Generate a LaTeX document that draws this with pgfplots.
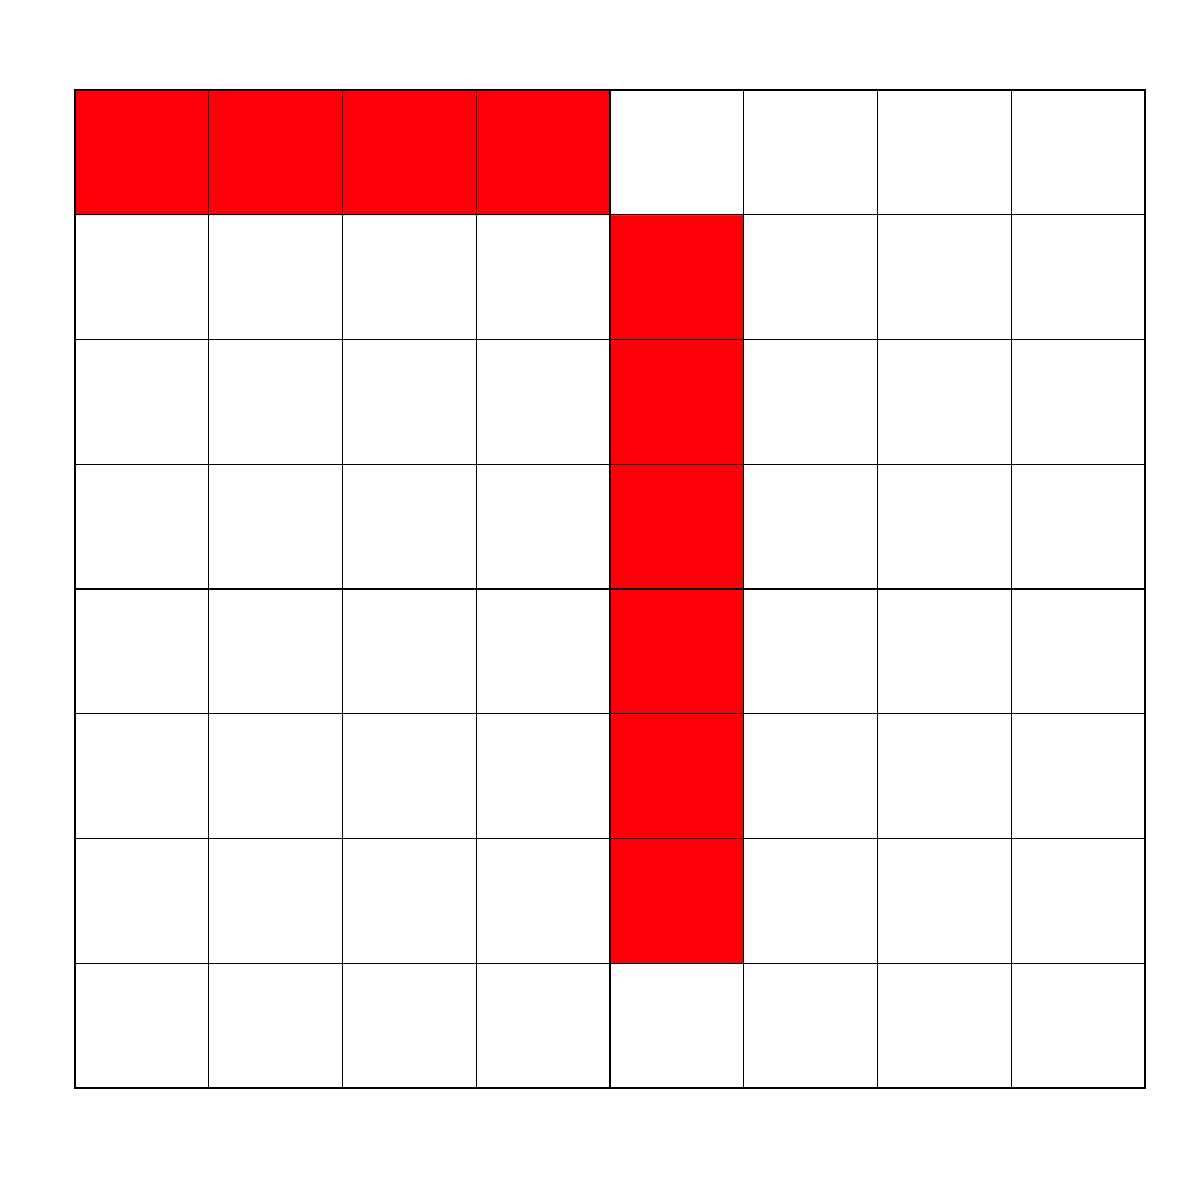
\documentclass[border=0pt]{standalone}
\usepackage{pgfplots}
\pgfplotsset{compat=1.18}
\definecolor{cellred}{HTML}{FF0008}
\begin{document}
\begin{tikzpicture}
\path (-37.5pt,-56pt) rectangle (562.5pt,544pt);
\begin{axis}[at={(0,0)},anchor=south west,scale only axis,width=535pt,height=499pt,
 xmin=0,xmax=8,ymin=0,ymax=8,xtick={0,...,8},ytick={0,...,8},
 xticklabels={},yticklabels={},major tick length=0pt,grid=major,
 grid style={black,line width=0.6pt},axis line style={black,line width=0.6pt},
 axis on top,colormap={wr}{color(0)=(white) color(1)=(cellred)},point meta min=0,point meta max=1]
\addplot[matrix plot*,mesh/cols=8,point meta=explicit,shader=flat corner] table[meta=c] {
x y c
0.5 0.5 0
1.5 0.5 0
2.5 0.5 0
3.5 0.5 0
4.5 0.5 0
5.5 0.5 0
6.5 0.5 0
7.5 0.5 0
0.5 1.5 0
1.5 1.5 0
2.5 1.5 0
3.5 1.5 0
4.5 1.5 1
5.5 1.5 0
6.5 1.5 0
7.5 1.5 0
0.5 2.5 0
1.5 2.5 0
2.5 2.5 0
3.5 2.5 0
4.5 2.5 1
5.5 2.5 0
6.5 2.5 0
7.5 2.5 0
0.5 3.5 0
1.5 3.5 0
2.5 3.5 0
3.5 3.5 0
4.5 3.5 1
5.5 3.5 0
6.5 3.5 0
7.5 3.5 0
0.5 4.5 0
1.5 4.5 0
2.5 4.5 0
3.5 4.5 0
4.5 4.5 1
5.5 4.5 0
6.5 4.5 0
7.5 4.5 0
0.5 5.5 0
1.5 5.5 0
2.5 5.5 0
3.5 5.5 0
4.5 5.5 1
5.5 5.5 0
6.5 5.5 0
7.5 5.5 0
0.5 6.5 0
1.5 6.5 0
2.5 6.5 0
3.5 6.5 0
4.5 6.5 1
5.5 6.5 0
6.5 6.5 0
7.5 6.5 0
0.5 7.5 1
1.5 7.5 1
2.5 7.5 1
3.5 7.5 1
4.5 7.5 0
5.5 7.5 0
6.5 7.5 0
7.5 7.5 0
};
\end{axis}
\end{tikzpicture}
\end{document}
